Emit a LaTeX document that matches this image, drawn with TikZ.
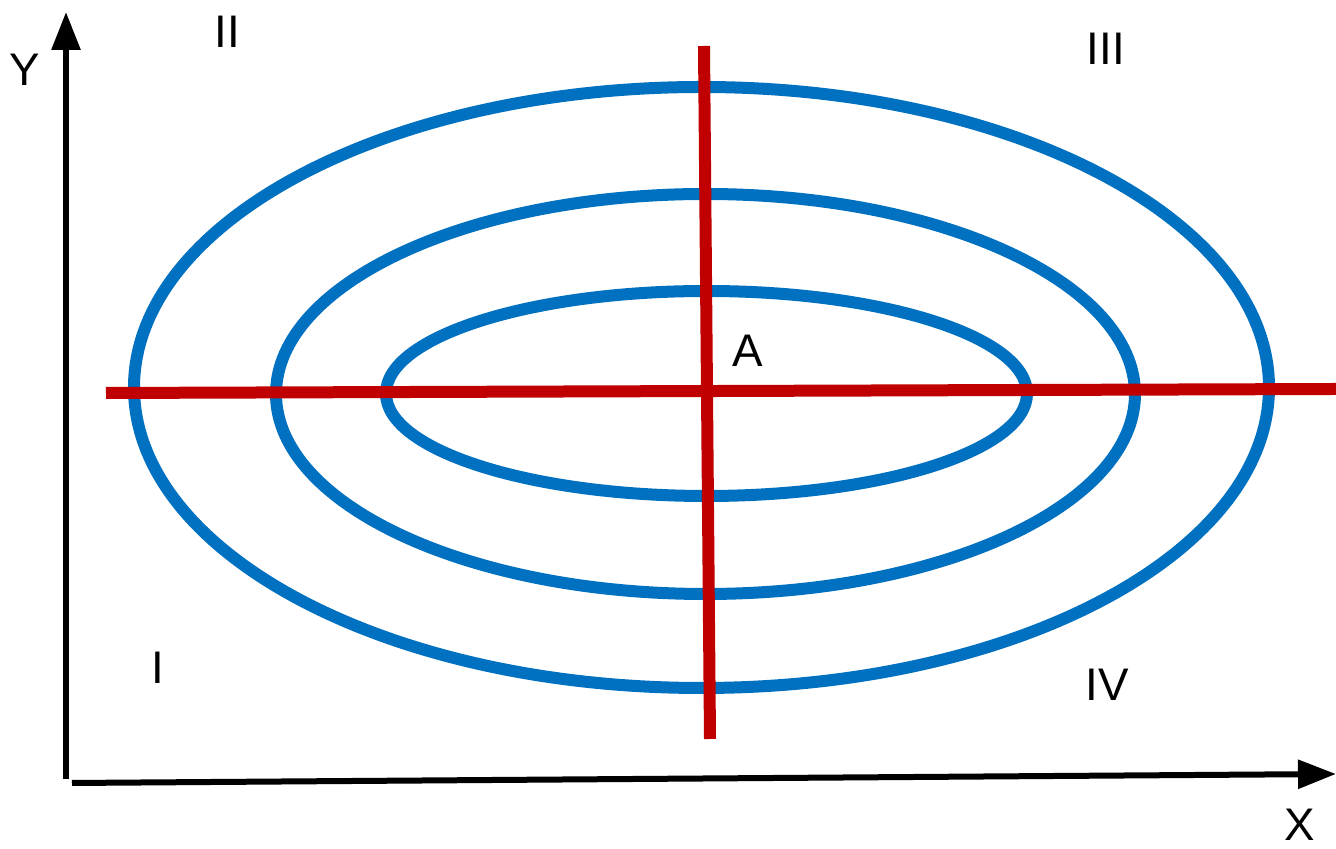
\documentclass[tikz,border=0pt]{standalone}
\usepackage{fontspec}
\setmainfont{Liberation Sans}
\usepackage{xcolor}
\usetikzlibrary{arrows.meta,positioning}
\definecolor{ringblue}{HTML}{0070C0}
\definecolor{crossred}{HTML}{C00000}

\begin{document}
\begin{tikzpicture}[>=Latex,
  axis/.style={line width=0.06cm,-{Triangle[length=0.38cm,width=0.28cm]}},
  ring/.style={ringblue,line width=0.12cm},
  cross/.style={crossred,line width=0.12cm},
  lbl/.style={inner sep=0pt,font=\fontsize{13}{15}\selectfont}]
\useasboundingbox (0,0) rectangle (13.36,8.49);

% axes
\coordinate (yfoot) at (0.66,0.70);
\coordinate (ytip) at (0.66,8.37);
\coordinate (xfoot) at (0.72,0.66);
\coordinate (xtip) at (13.36,0.75);
\draw[axis] (yfoot) -- (ytip);
\draw[axis] (xfoot) -- (xtip);

% level curves
\draw[ring] (7.015,4.615) ellipse [x radius=5.675,y radius=3.005];
\draw[ring] (7.055,4.55) ellipse [x radius=4.295,y radius=2.00];
\draw[ring] (7.065,4.555) ellipse [x radius=3.205,y radius=1.025];

% cross through A
\coordinate (hl) at (1.06,4.56);
\coordinate (hr) at (13.36,4.60);
\coordinate (vt) at (7.04,8.03);
\coordinate (vb) at (7.10,1.10);
\draw[cross] (hl) -- (hr);
\draw[cross] (vt) -- (vb);

\node[lbl] (lY) at (0.25,7.79) {Y};
\node[lbl] (lX) at (13.00,0.24) {X};
\node[lbl] (lA) at (7.48,4.98) {A};
\node[lbl] (qI) at (1.58,1.81) {I};
\node[lbl] (qII) at (2.27,8.17) {II};
\node[lbl] (qIII) at (11.06,8.005) {III};
\node[lbl] (qIV) at (11.07,1.64) {IV};
\end{tikzpicture}
\end{document}
